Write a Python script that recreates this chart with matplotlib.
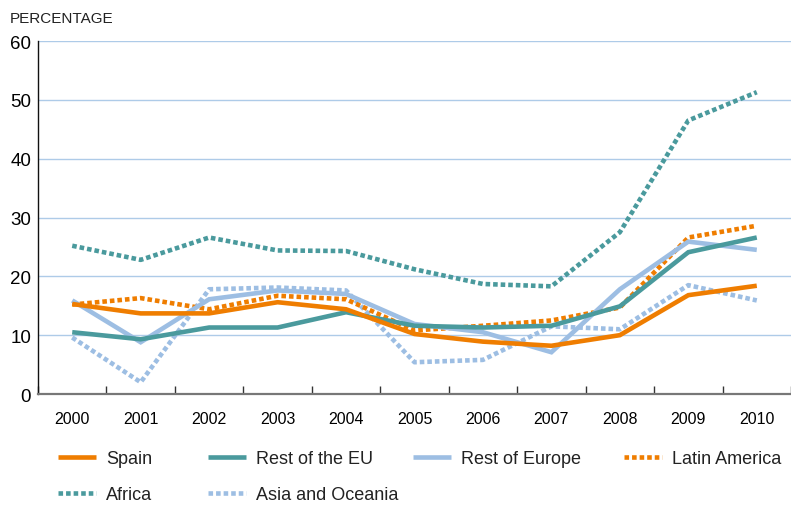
import matplotlib
matplotlib.use('Agg')
import matplotlib.pyplot as plt

# data
years = ['2000', '2001', '2002', '2003', '2004', '2005',
         '2006', '2007', '2008', '2009', '2010']
spain = [15.3, 13.7, 13.7, 15.6, 14.4, 10.2, 8.9, 8.2, 10.0, 16.8, 18.4]
rest_eu = [10.5, 9.3, 11.3, 11.3, 13.9, 11.6, 11.3, 11.6, 14.9, 24.1, 26.6]
rest_europe = [15.9, 8.8, 16.1, 17.6, 17.0, 11.9, 10.5, 7.1, 17.8, 25.9, 24.5]
latin_america = [15.2, 16.3, 14.4, 16.7, 16.1, 10.8, 11.6, 12.5, 14.7, 26.6, 28.6]
africa = [25.2, 22.8, 26.6, 24.4, 24.3, 21.2, 18.7, 18.3, 27.5, 46.5, 51.3]
asia_oceania = [9.6, 2.0, 17.8, 18.1, 17.6, 5.4, 5.8, 11.5, 11.0, 18.5, 15.9]

ORANGE = '#EF7D00'
TEAL = '#4A9A9D'
LBLUE = '#9DBEE3'
GRID = '#AECBE8'

plt.rcParams['font.family'] = ['Liberation Sans', 'DejaVu Sans']
plt.rcParams['text.color'] = '#222222'

fig = plt.figure(figsize=(7.91, 5.06), dpi=100)
ax = fig.add_axes([38 / 791, 1 - 395 / 506, 1 - 38 / 791, (395 - 42) / 506])

x = list(range(len(years)))
dot = (0, (1.0, 0.65))
lw = 3.3

series = [
    ('Asia and Oceania', asia_oceania, LBLUE, dot),
    ('Africa', africa, TEAL, dot),
    ('Latin America', latin_america, ORANGE, dot),
    ('Rest of Europe', rest_europe, LBLUE, '-'),
    ('Rest of the EU', rest_eu, TEAL, '-'),
    ('Spain', spain, ORANGE, '-'),
]
lines = {}
for name, vals, col, ls in series:
    ln, = ax.plot(x, vals, color=col, linestyle=ls, linewidth=lw,
                  dash_capstyle='butt', solid_capstyle='butt',
                  solid_joinstyle='miter', label=name)
    lines[name] = ln

ax.set_ylim(0, 60)
ax.set_xlim(-0.5, 10.37)
ax.set_yticks(range(0, 61, 10))
ax.set_xticks(x)
ax.set_xticklabels(years)
ax.set_xticks([i + 0.5 for i in range(-1, 11)], minor=True)
ax.tick_params(axis='x', which='major', length=0, pad=12, labelsize=11.5)
ax.tick_params(axis='x', which='minor', direction='in', length=6,
               width=1, color='#333333')
ax.tick_params(axis='y', length=0, pad=5, labelsize=13.5)
ax.yaxis.grid(True, color=GRID, linewidth=1)
ax.set_axisbelow(True)
for s in ['top', 'right']:
    ax.spines[s].set_visible(False)
ax.spines['left'].set_color('#111111')
ax.spines['left'].set_linewidth(1)
ax.spines['bottom'].set_color('#777777')
ax.spines['bottom'].set_linewidth(1.6)

fig.text(10 / 791, 1 - 19 / 506, 'PERCENTAGE', fontsize=11, va='center',
         ha='left')

# legend: four fixed columns
cols = [(58, ['Spain', 'Africa']),
        (208, ['Rest of the EU', 'Asia and Oceania']),
        (413, ['Rest of Europe']),
        (624, ['Latin America'])]
for cx, nm in cols:
    fig.legend([lines[n] for n in nm], nm, loc='upper left',
               bbox_to_anchor=(cx / 791, 1 - 451 / 506), frameon=False,
               borderpad=0, borderaxespad=0, handlelength=2.1,
               handletextpad=0.55, labelspacing=1.05,
               prop={'size': 13})

fig.savefig('out.png', dpi=100)
